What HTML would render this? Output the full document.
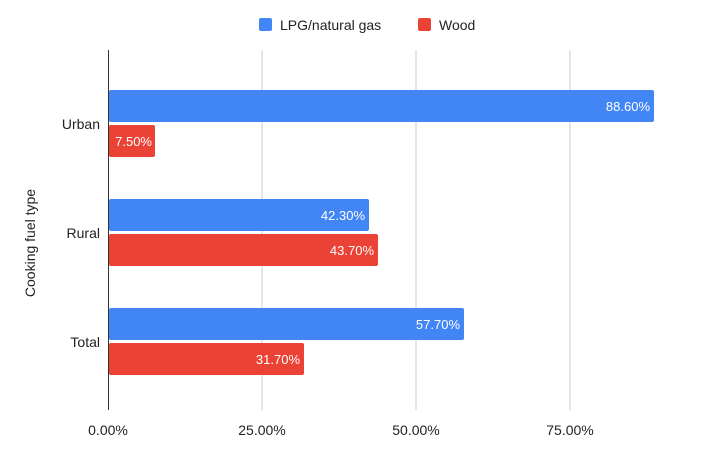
<!DOCTYPE html><html><head><style>body{margin:0;background:#fff}</style></head><body>
<svg width="719" height="455" xmlns="http://www.w3.org/2000/svg" font-family="Liberation Sans, Arial, sans-serif">
<rect width="719" height="455" fill="#fff"/>
<g stroke="#ccc" stroke-width="1">
<line x1="262" y1="50" x2="262" y2="410"/><line x1="416" y1="50" x2="416" y2="410"/><line x1="570" y1="50" x2="570" y2="410"/>
</g>
<line x1="108.5" y1="50" x2="108.5" y2="410" stroke="#333" stroke-width="1"/>
<g fill="#4285f4">
<rect x="109" y="90" width="545" height="32" rx="2"/>
<rect x="109" y="199" width="260" height="32" rx="2"/>
<rect x="109" y="308" width="355" height="32" rx="2"/>
</g>
<g fill="#ea4335">
<rect x="109" y="125" width="46" height="32" rx="2"/>
<rect x="109" y="234" width="269" height="32" rx="2"/>
<rect x="109" y="343" width="195" height="32" rx="2"/>
</g>
<g fill="#fff" font-size="13" text-anchor="end">
<text x="650" y="111">88.60%</text>
<text x="152" y="146">7.50%</text>
<text x="365" y="220">42.30%</text>
<text x="374" y="255">43.70%</text>
<text x="460" y="329">57.70%</text>
<text x="300" y="364">31.70%</text>
</g>
<g fill="#222" font-size="14" text-anchor="end">
<text x="100" y="129">Urban</text>
<text x="100" y="238">Rural</text>
<text x="100" y="347">Total</text>
</g>
<g fill="#222" font-size="14" text-anchor="middle">
<text x="108" y="435">0.00%</text>
<text x="262" y="435">25.00%</text>
<text x="416" y="435">50.00%</text>
<text x="570" y="435">75.00%</text>
</g>
<text transform="translate(35,243) rotate(-90)" font-size="14" fill="#222" text-anchor="middle">Cooking fuel type</text>
<rect x="259" y="18" width="13" height="13" rx="2" fill="#4285f4"/>
<text x="280" y="30" font-size="14" fill="#222">LPG/natural gas</text>
<rect x="418" y="18" width="13" height="13" rx="2" fill="#ea4335"/>
<text x="439" y="30" font-size="14" fill="#222">Wood</text>
</svg>
</body></html>
